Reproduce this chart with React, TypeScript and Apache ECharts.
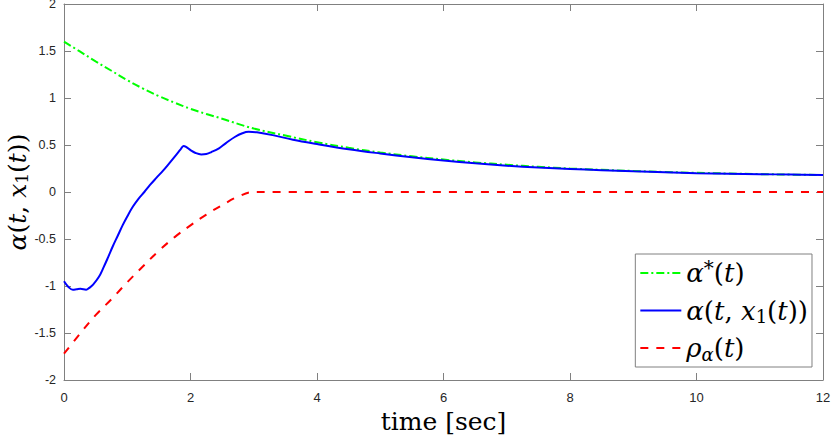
import React, { useEffect, useRef } from "react";
import * as echarts from "echarts";

// ---- data ----
const tGreen = [0, 0.25, 0.5, 0.75, 1, 1.25, 1.5, 1.75, 2, 2.25, 2.5, 2.75, 3, 3.5, 4, 4.5, 5, 5.5, 6, 6.5, 7, 7.5, 8, 8.5, 9, 9.5, 10, 10.5, 11, 11.5, 12];
const vGreen = [1.6, 1.495, 1.39, 1.29, 1.19, 1.1, 1.02, 0.95, 0.885, 0.83, 0.78, 0.725, 0.675, 0.6, 0.53, 0.47, 0.42, 0.38, 0.345, 0.315, 0.29, 0.268, 0.25, 0.236, 0.224, 0.213, 0.204, 0.197, 0.19, 0.185, 0.18];

const tBlue = [0, 0.07, 0.14, 0.2, 0.26, 0.35, 0.4, 0.46, 0.55, 0.62, 0.7, 0.77, 0.85, 0.93, 1.0, 1.09, 1.18, 1.27, 1.36, 1.46, 1.57, 1.67, 1.78, 1.84, 1.89, 1.93, 2.0, 2.08, 2.17, 2.25, 2.33, 2.45, 2.56, 2.7, 2.82, 2.92, 3.05, 3.3, 3.62, 4.0, 4.5, 5, 5.5, 6, 6.5, 7, 7.5, 8, 8.5, 9, 9.5, 10, 10.5, 11, 11.5, 12];
const vBlue = [-0.95, -1.01, -1.04, -1.035, -1.03, -1.04, -1.02, -0.985, -0.905, -0.81, -0.69, -0.58, -0.465, -0.35, -0.26, -0.155, -0.07, 0.0, 0.075, 0.15, 0.23, 0.31, 0.4, 0.45, 0.49, 0.48, 0.445, 0.415, 0.4, 0.405, 0.425, 0.465, 0.52, 0.585, 0.625, 0.64, 0.635, 0.605, 0.556, 0.51, 0.455, 0.41, 0.37, 0.335, 0.305, 0.28, 0.26, 0.245, 0.232, 0.22, 0.21, 0.2, 0.195, 0.19, 0.185, 0.18];

const tRed = [0, 0.25, 0.5, 0.75, 1, 1.25, 1.5, 1.75, 2, 2.25, 2.5, 2.75, 3, 12];
const vRed = [-1.72, -1.51, -1.31, -1.14, -0.96, -0.79, -0.625, -0.48, -0.355, -0.24, -0.14, -0.05, 0, 0];

const xMin = 0, xMax = 12, xStep = 2;
const yMin = -2, yMax = 2, yStep = 0.5;

const seriesNames = ["alphaStar", "alpha", "rho"];
const seriesLabels = [
  "{m|α}{sup|*}{r|(}{m|t}{r|)}",
  "{m|α}{r|(}{m|t}{r|, }{m|x}{s1|1}{r|(}{m|t}{r|))}",
  "{m|ρ}{s|α}{r|(}{m|t}{r|)}",
];
const xName = "time [sec]";
const yNameRich = "{m|α}{r|(}{m|t}{r|, }{m|x}{s1|1}{r|(}{m|t}{r|))}";

const zip = (t: number[], v: number[]) => t.map((x, i) => [x, v[i]]);

const SERIF = "'DejaVu Serif', 'Liberation Serif', serif";
const SANS = "'Liberation Sans', Arial, Helvetica, sans-serif";
const AXIS = "#808080";
const LABEL = "#262626";

const mathRich = (fs: number, lh: number) => ({
  m: { fontFamily: SERIF, fontStyle: "italic", fontSize: fs, lineHeight: lh, color: "#000" },
  r: { fontFamily: SERIF, fontSize: fs, lineHeight: lh, color: "#000" },
  s: { fontFamily: SERIF, fontStyle: "italic", fontSize: Math.round(fs * 0.68), lineHeight: Math.round(fs * 0.68), verticalAlign: "bottom", color: "#000" },
  s1: { fontFamily: SERIF, fontSize: Math.round(fs * 0.68), lineHeight: Math.round(fs * 0.68), verticalAlign: "bottom", color: "#000" },
  sup: { fontFamily: SERIF, fontSize: Math.round(fs * 0.75), lineHeight: Math.round(fs * 0.75), verticalAlign: "top", color: "#000" },
});

export default function App() {
  const ref = useRef<HTMLDivElement>(null);
  useEffect(() => {
    if (!ref.current) return;
    const chart = echarts.init(ref.current, undefined, { renderer: "svg" });
    const tickCommon = { show: true, inside: true, length: 7, lineStyle: { color: AXIS, width: 1 } };
    const lineCommon = { show: true, onZero: false, lineStyle: { color: AXIS, width: 1 } };
    chart.setOption({
      animation: false,
      backgroundColor: "#fff",
      grid: { left: 64, top: 4, right: 8, bottom: 56, containLabel: false, outerBoundsMode: "none" },
      xAxis: [
        {
          type: "value", min: xMin, max: xMax, interval: xStep, position: "bottom",
          axisLine: lineCommon, axisTick: tickCommon, splitLine: { show: false },
          axisLabel: { margin: 11, fontFamily: SANS, fontSize: 13, color: LABEL },
          name: xName, nameLocation: "middle", nameGap: 17,
          nameTextStyle: { fontFamily: SERIF, fontSize: 25, color: "#000", verticalAlign: "top" },
        },
        {
          type: "value", min: xMin, max: xMax, interval: xStep, position: "top",
          axisLine: lineCommon, axisTick: tickCommon, splitLine: { show: false }, axisLabel: { show: false },
        },
      ],
      yAxis: [
        {
          type: "value", min: yMin, max: yMax, interval: yStep, position: "left",
          axisLine: lineCommon, axisTick: tickCommon, splitLine: { show: false },
          axisLabel: { margin: 8, fontFamily: SANS, fontSize: 12.5, color: LABEL, padding: [2, 0, 0, 0] },
          name: yNameRich, nameLocation: "middle", nameGap: 34, nameRotate: 90, nameMoveOverlap: false,
          nameTextStyle: { rich: mathRich(25, 26) },
        },
        {
          type: "value", min: yMin, max: yMax, interval: yStep, position: "right",
          axisLine: lineCommon, axisTick: tickCommon, splitLine: { show: false }, axisLabel: { show: false },
        },
      ],
      legend: {
        orient: "vertical", right: 19, top: 254,
        padding: [4, 4, 4, 4], itemWidth: 41, itemHeight: 14, itemGap: 7.5,
        backgroundColor: "#fff", borderColor: AXIS, borderWidth: 1, borderRadius: 0,
        itemStyle: { opacity: 0 },
        data: seriesNames,
        formatter: (name: string) => seriesLabels[seriesNames.indexOf(name)],
        textStyle: { fontFamily: SERIF, fontSize: 26, lineHeight: 30, rich: mathRich(26, 30) },
      },
      series: [
        {
          name: seriesNames[0], type: "line", data: zip(tGreen, vGreen), symbol: "none",
          smooth: 0.4,
          lineStyle: { color: "#00ff00", width: 2, type: [8, 3, 2, 3] }, itemStyle: { color: "#00ff00" },
        },
        {
          name: seriesNames[1], type: "line", data: zip(tBlue, vBlue), symbol: "none",
          smooth: 0.4,
          lineStyle: { color: "#0000ff", width: 2, type: "solid" }, itemStyle: { color: "#0000ff" },
        },
        {
          name: seriesNames[2], type: "line", data: zip(tRed, vRed), symbol: "none",
          smooth: 0.4,
          lineStyle: { color: "#ff0000", width: 2, type: [8, 8] }, itemStyle: { color: "#ff0000" },
        },
      ],
    });
    return () => chart.dispose();
  }, []);
  return <div ref={ref} style={{ position: "absolute", left: 0, top: 0, width: 831, height: 436 }} />;
}
